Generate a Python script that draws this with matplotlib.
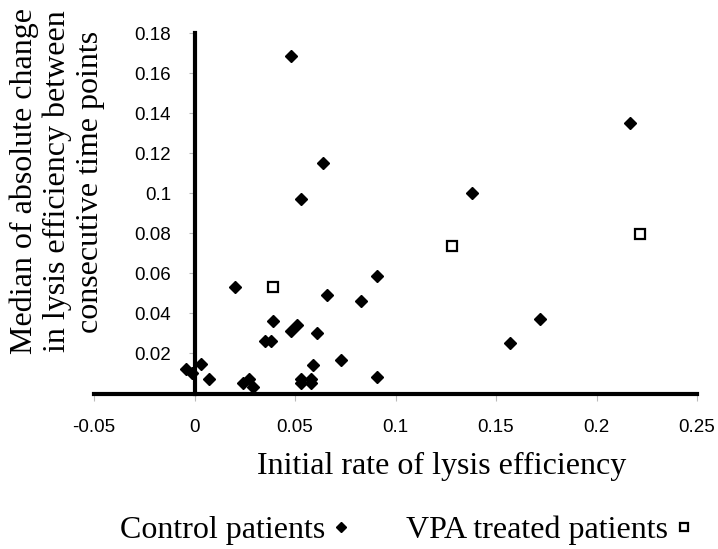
import matplotlib
matplotlib.use('Agg')
import matplotlib.pyplot as plt
from matplotlib.ticker import FuncFormatter

# Data
control_x = [0.048, 0.0638, 0.0531, 0.0201, 0.0661, 0.0828, 0.0909, 0.2168, 0.1379,
             0.1719, 0.157, 0.0391, 0.0478, 0.0511, 0.061, 0.0351, 0.038, 0.0727,
             0.059, 0.0031, -0.004, -0.001, 0.0072, 0.0909, 0.0243, 0.0273, 0.0293,
             0.053, 0.053, 0.058, 0.058]
control_y = [0.1685, 0.1151, 0.097, 0.0533, 0.0491, 0.0463, 0.0588, 0.1353, 0.1003,
             0.0373, 0.0252, 0.0363, 0.0313, 0.0342, 0.0303, 0.0263, 0.0263, 0.0167,
             0.0142, 0.0147, 0.012, 0.010, 0.0072, 0.0081, 0.0054, 0.0072, 0.0031,
             0.007, 0.005, 0.007, 0.005]
vpa_x = [0.0392, 0.1283, 0.2216]
vpa_y = [0.0533, 0.0736, 0.0794]

x_ticks = [-0.05, 0, 0.05, 0.1, 0.15, 0.2, 0.25]
y_ticks = [0.02, 0.04, 0.06, 0.08, 0.1, 0.12, 0.14, 0.16, 0.18]

xlabel = "Initial rate of lysis efficiency"
ylabel = "Median of absolute change\nin lysis efficiency between\nconsecutive time points"
series_names = ["Control patients", "VPA treated patients"]

W, H = 718, 549
fig = plt.figure(figsize=(W / 100, H / 100), dpi=100)
ax = fig.add_axes([94 / W, 1 - 393.5 / H, 603 / W, 360.5 / H])

tick_family = ['Liberation Sans', 'DejaVu Sans']
tick_size = 13.5
serif = ['Liberation Serif', 'DejaVu Serif']

h1, = ax.plot(control_x, control_y, linestyle='none', marker='D', ms=6.2,
              color='black', mec='black', clip_on=False, zorder=4)
h2, = ax.plot(vpa_x, vpa_y, linestyle='none', marker='s', ms=7.5,
              mfc='white', mec='black', mew=1.6, clip_on=False, zorder=4)

ax.set_xlim(-0.05, 0.25)
ax.set_ylim(0, 0.18)
ax.set_xticks(x_ticks)
ax.set_yticks(y_ticks)


def fmt(v, pos):
    s = ('%.2f' % v).rstrip('0').rstrip('.')
    if s == '-0':
        s = '0'
    return s


ax.xaxis.set_major_formatter(FuncFormatter(fmt))
ax.yaxis.set_major_formatter(FuncFormatter(fmt))

for sp in ['top', 'right']:
    ax.spines[sp].set_visible(False)
ax.spines['left'].set_position(('data', 0))
ax.spines['bottom'].set_position(('data', 0))
ax.spines['left'].set_linewidth(3)
ax.spines['bottom'].set_linewidth(3)

ax.tick_params(axis='x', direction='out', length=5, width=0.8, color='#bbbbbb', pad=13)
ax.tick_params(axis='y', direction='out', length=4, width=0.8, color='#bbbbbb', pad=13)
for lab in ax.get_xticklabels() + ax.get_yticklabels():
    lab.set_fontfamily(tick_family)
    lab.set_fontsize(tick_size)

fig.text(442 / W, 1 - 466 / H, xlabel, family=serif, size=23, ha='center', va='center')
fig.text(57 / W, 1 - 181.5 / H, ylabel, family=serif, size=23, ha='center', va='center',
         rotation=90, multialignment='center', linespacing=1.17)

leg = fig.legend([h1, h2], series_names, loc='center', bbox_to_anchor=(406 / W, 1 - 530 / H),
                 ncol=2, frameon=False, markerfirst=False, prop=dict(family=serif, size=23),
                 handlelength=0.5, handletextpad=0.25, columnspacing=1.8, markerscale=0.85,
                 borderpad=0, borderaxespad=0)

fig.savefig('out.png', dpi=100)
